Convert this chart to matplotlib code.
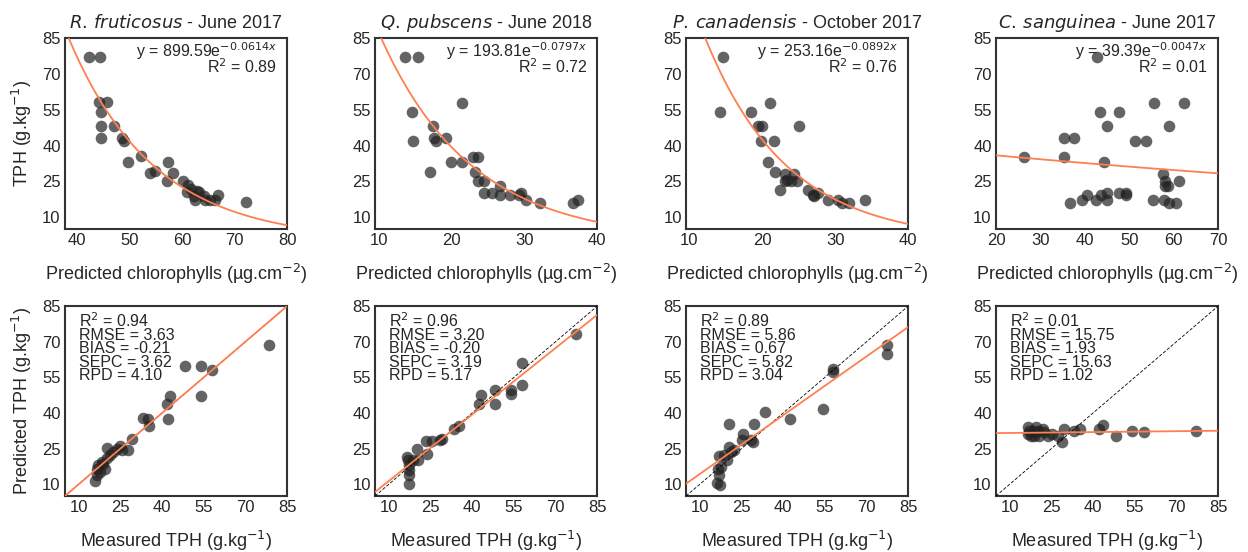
"""
TPH vs predicted chlorophylls (top row) and predicted vs measured TPH (bottom row)
for four species.
"""

import matplotlib.pyplot as plt
import numpy as np

# ---- species / titles ----
species = ["R.\\,fruticosus", "Q.\\,pubscens", "P.\\,canadensis", "C.\\,sanguinea"]
dates = ["June 2017", "June 2018", "October 2017", "June 2017"]

# ---- top row: predicted chlorophylls vs TPH ----
chl_1 = [42.3, 44.3, 44.1, 45.7, 44.6, 44.6, 47.0, 44.5, 48.5, 48.9, 49.7, 52.1, 54.0, 54.8,
         57.4, 58.2, 57.2, 60.1, 61.2, 60.9, 61.8, 62.2, 62.8, 63.3, 62.4, 64.1, 65.4, 66.3,
         66.9, 72.2, 64.3]
tph_1 = [77.0, 77.0, 58.2, 58.2, 54.2, 48.2, 48.2, 43.3, 43.3, 42.0, 33.3, 35.7, 28.5, 29.2,
         33.3, 28.5, 25.3, 25.3, 23.6, 20.4, 21.8, 19.0, 21.0, 20.4, 17.2, 19.0, 17.2, 17.2,
         19.4, 16.5, 17.2]

chl_2 = [13.6, 15.4, 14.6, 21.4, 14.7, 17.4, 17.6, 17.9, 19.2, 17.1, 19.9, 21.5, 22.9, 23.7,
         23.2, 23.7, 24.4, 24.4, 25.6, 26.6, 26.6, 28.0, 29.6, 30.2, 32.1, 36.7, 37.4, 29.3]
tph_2 = [77.0, 77.0, 54.0, 58.0, 42.1, 48.0, 43.1, 42.1, 43.1, 29.1, 33.0, 33.0, 35.1, 35.1,
         29.1, 25.0, 25.0, 20.3, 20.3, 23.1, 19.1, 19.1, 20.3, 17.3, 16.1, 16.1, 17.3, 19.1]

chl_3 = [14.6, 14.3, 18.5, 21.1, 19.4, 20.0, 25.0, 19.8, 21.7, 20.8, 21.8, 23.1, 24.4, 23.2,
         23.9, 24.8, 22.4, 26.3, 27.0, 27.6, 27.1, 29.0, 30.4, 31.0, 31.9, 34.1, 23.4]
tph_3 = [77.0, 54.0, 54.0, 58.0, 48.0, 48.0, 48.0, 42.1, 42.1, 33.0, 29.1, 28.2, 28.2, 25.0,
         25.0, 25.0, 21.2, 21.2, 19.1, 20.1, 18.7, 17.3, 17.3, 16.1, 16.1, 17.3, 25.6]

chl_4 = [42.7, 26.2, 35.3, 35.3, 37.5, 43.3, 47.7, 44.8, 44.2, 51.3, 53.8, 55.6, 62.4, 58.9,
         57.6, 58.1, 58.7, 57.9, 61.2, 36.6, 39.3, 40.4, 42.5, 43.6, 44.9, 44.8, 47.6, 49.1,
         49.1, 55.3, 57.8, 58.9, 60.6]
tph_4 = [77.0, 35.1, 35.1, 43.1, 43.1, 54.0, 54.0, 48.0, 33.0, 42.1, 42.1, 58.0, 58.0, 48.0,
         28.2, 25.0, 23.1, 23.1, 25.0, 16.1, 17.3, 19.4, 17.3, 19.1, 20.3, 17.3, 20.3, 20.3,
         19.1, 17.3, 17.3, 16.1, 16.1]

# exponential fit y = a * exp(b * x) and R2
exp_a = [899.59, 193.81, 253.16, 39.39]
exp_b = [-0.0614, -0.0797, -0.0892, -0.0047]
exp_r2 = ["0.89", "0.72", "0.76", "0.01"]
chl_xlim = [(37.7, 80), (9.5, 40), (9.6, 40), (19.8, 70)]
chl_xticks = [[40, 50, 60, 70, 80], [10, 20, 30, 40], [10, 20, 30, 40], [20, 30, 40, 50, 60, 70]]

# ---- bottom row: measured vs predicted TPH ----
meas_1 = [78.4, 48.1, 54.1, 57.9, 54.1, 42.9, 41.9, 42.3, 33.0, 35.1, 35.3, 29.1, 27.9, 24.9,
          25.5, 20.0, 22.4, 21.2, 20.0, 18.2, 17.0, 16.4, 19.4, 16.4, 15.8, 17.6, 18.8, 23.7]
pred_1 = [68.7, 59.7, 59.7, 57.9, 47.1, 47.0, 43.9, 37.6, 37.8, 37.3, 34.5, 29.1, 24.6, 26.1,
          24.6, 25.4, 23.5, 22.1, 21.0, 19.3, 17.9, 16.5, 16.5, 13.7, 11.2, 15.1, 18.6, 24.9]

meas_2 = [77.2, 57.9, 57.9, 54.1, 54.1, 48.1, 48.1, 43.1, 42.3, 35.4, 33.3, 29.1, 28.5, 25.5,
          23.4, 23.7, 20.0, 20.6, 16.4, 17.0, 17.4, 17.4, 17.4, 17.4, 18.8]
pred_2 = [73.4, 61.1, 51.6, 49.5, 48.1, 49.5, 43.9, 47.4, 43.9, 34.5, 33.1, 29.1, 28.4, 28.2,
          28.2, 22.8, 24.9, 20.0, 21.4, 20.0, 18.2, 15.8, 14.0, 10.2, 20.0]

meas_3 = [77.2, 77.2, 57.9, 57.9, 54.3, 42.3, 33.3, 29.4, 20.3, 25.5, 25.1, 28.5, 29.1, 20.3,
          21.2, 18.8, 16.7, 19.8, 17.6, 16.4, 17.0, 16.2, 17.4, 22.4]
pred_3 = [68.7, 64.9, 58.6, 57.2, 41.8, 37.3, 40.6, 35.5, 35.5, 31.2, 28.4, 28.4, 27.7, 25.6,
          23.5, 22.1, 21.8, 20.0, 17.2, 16.5, 14.0, 10.6, 9.8, 24.2]

meas_4 = [77.2, 58.3, 54.1, 48.3, 43.5, 42.3, 35.4, 33.3, 29.4, 28.7, 27.3, 25.1, 22.4, 20.6,
          19.4, 16.4, 16.4, 17.6, 18.2, 20.0, 21.8, 17.0, 18.8, 23.7]
pred_4 = [32.6, 31.9, 32.4, 30.5, 35.0, 33.1, 33.4, 32.6, 33.1, 27.7, 30.3, 31.2, 31.9, 30.5,
          34.1, 34.1, 31.2, 30.5, 32.6, 32.6, 33.1, 32.2, 30.3, 30.3]

# linear fit of predicted on measured, and statistics
lin_slope = [1.0, 0.933, 0.825, 0.0125]
lin_icpt = [0.0, 2.03, 6.07, 31.44]
stats_r2 = ["0.94", "0.96", "0.89", "0.01"]
stats_rmse = ["3.63", "3.20", "5.86", "15.75"]
stats_bias = ["-0.21", "-0.20", "0.67", "1.93"]
stats_sepc = ["3.62", "3.19", "5.82", "15.63"]
stats_rpd = ["4.10", "5.17", "3.04", "1.02"]

tph_ticks = [10, 25, 40, 55, 70, 85]

top_x = [chl_1, chl_2, chl_3, chl_4]
top_y = [tph_1, tph_2, tph_3, tph_4]
bot_x = [meas_1, meas_2, meas_3, meas_4]
bot_y = [pred_1, pred_2, pred_3, pred_4]

# ---- style ----
plt.rcParams['font.family'] = ['Liberation Sans', 'DejaVu Sans']
plt.rcParams['axes.edgecolor'] = '#333333'
plt.rcParams['axes.linewidth'] = 1.5
plt.rcParams['xtick.color'] = '#262626'
plt.rcParams['ytick.color'] = '#262626'
plt.rcParams['text.color'] = '#262626'
plt.rcParams['axes.labelcolor'] = '#262626'

PT_COLOR = '#222222'
FIT_COLOR = '#FF7F50'

fig = plt.figure(figsize=(12.48, 5.52), dpi=100)
col_x = [0.052, 0.3005, 0.5497, 0.798]
ax_w = 0.178


def style_axes(ax):
    ax.tick_params(length=0, labelsize=12, pad=3)
    ax.set_yticks(tph_ticks)
    ax.set_ylim(5, 85)


for i in range(4):
    # top row
    ax = fig.add_axes([col_x[i], 0.585, ax_w, 0.346])
    ax.scatter(top_x[i], top_y[i], s=70, color=PT_COLOR, alpha=0.7, linewidths=0, zorder=2)
    xs = np.linspace(chl_xlim[i][0], chl_xlim[i][1], 200)
    ax.plot(xs, exp_a[i] * np.exp(exp_b[i] * xs), color=FIT_COLOR, lw=1.3, zorder=3)
    style_axes(ax)
    ax.set_xlim(*chl_xlim[i])
    ax.set_xticks(chl_xticks[i])
    ax.set_title(r"$\it{" + species[i] + "}$ - " + dates[i], fontsize=13, pad=7)
    ax.set_xlabel(r"Predicted chlorophylls (µg.cm$^{-2}$)", fontsize=13, labelpad=10)
    if i == 0:
        ax.set_ylabel(r"TPH (g.kg$^{-1}$)", fontsize=13, labelpad=6)
    ax.text(0.955, 0.899, "y = %.2fe$^{%.4fx}$" % (exp_a[i], exp_b[i]),
            transform=ax.transAxes, ha='right', va='baseline', fontsize=11.5, zorder=4)
    ax.text(0.955, 0.818, "R$^2$ = " + exp_r2[i],
            transform=ax.transAxes, ha='right', va='baseline', fontsize=11.5, zorder=4)

    # bottom row
    ax = fig.add_axes([col_x[i], 0.1014, ax_w, 0.344])
    ax.scatter(bot_x[i], bot_y[i], s=70, color=PT_COLOR, alpha=0.7, linewidths=0, zorder=2)
    ax.plot([5, 85], [5, 85], color='black', lw=0.6, ls=(0, (4, 2)), zorder=3)
    xs = np.array([5, 85])
    ax.plot(xs, lin_slope[i] * xs + lin_icpt[i], color=FIT_COLOR, lw=1.3, zorder=3)
    style_axes(ax)
    ax.set_xlim(5, 85)
    ax.set_xticks(tph_ticks)
    ax.set_xlabel(r"Measured TPH (g.kg$^{-1}$)", fontsize=13, labelpad=10)
    if i == 0:
        ax.set_ylabel(r"Predicted TPH (g.kg$^{-1}$)", fontsize=13, labelpad=6)
    lines = ["R$^2$ = " + stats_r2[i], "RMSE = " + stats_rmse[i], "BIAS = " + stats_bias[i],
             "SEPC = " + stats_sepc[i], "RPD = " + stats_rpd[i]]
    for k, line in enumerate(lines):
        ax.text(0.063, 0.891 - k * 0.070, line, transform=ax.transAxes,
                ha='left', va='baseline', fontsize=11.5, zorder=4)

plt.savefig('out.png', dpi=100)
